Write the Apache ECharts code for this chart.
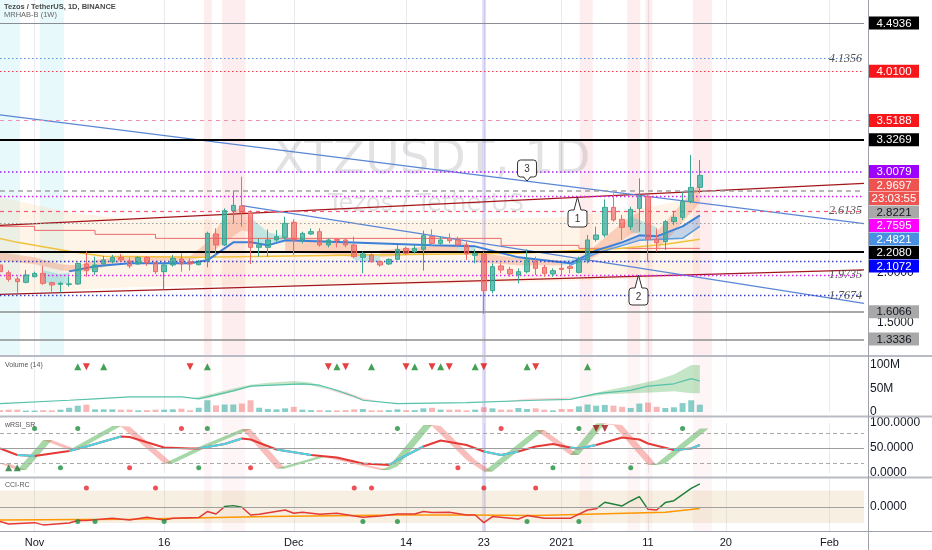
<!DOCTYPE html>
<html><head><meta charset="utf-8">
<script src="https://cdn.jsdelivr.net/npm/echarts@6.0.0/dist/echarts.min.js"></script>
<style>html,body{margin:0;padding:0;background:#fff}#chart{width:932px;height:550px}</style>
</head><body><div id="chart"></div>
<script>
// ---------- categories & ticks ----------
const cats = [];
for (let i = 0; i < 101; i++) cats.push(new Date(Date.UTC(2020, 9, 28) + i * 864e5).toISOString().slice(0, 10));
const xTickLabels = {'2020-11-01':'Nov','2020-11-16':'16','2020-12-01':'Dec','2020-12-14':'14','2020-12-23':'23','2021-01-01':'2021','2021-01-11':'11','2021-01-20':'20','2021-02-01':'Feb'};

// ---------- price data: [open, close, low, high] ----------
const candles = [
[2.074,2.007,1.990,2.100],[1.997,1.930,1.907,2.020],[1.934,1.907,1.797,1.957],[1.900,1.974,1.890,2.024],
[1.957,1.990,1.950,2.007],[1.990,1.890,1.874,2.064],[1.897,1.874,1.807,1.907],[1.880,1.890,1.797,1.907],
[1.880,1.885,1.857,1.957],[1.884,2.090,1.874,2.097],[2.084,2.017,1.957,2.207],[2.007,2.074,1.974,2.157],
[2.084,2.124,2.064,2.164],[2.107,2.150,2.090,2.174],[2.150,2.124,2.107,2.184],[2.114,2.064,2.040,2.150],
[2.084,2.150,2.074,2.164],[2.150,2.097,2.064,2.164],[2.097,2.007,1.984,2.107],[2.007,2.074,1.830,2.090],
[2.074,2.140,2.057,2.174],[2.134,2.084,2.007,2.190],[2.107,2.084,2.017,2.140],[2.077,2.097,2.070,2.124],
[2.117,2.390,2.050,2.407],[2.384,2.274,2.157,2.440],[2.274,2.617,2.264,2.640],[2.617,2.670,2.490,2.820],
[2.664,2.600,2.457,2.957],[2.590,2.250,2.083,2.620],[2.250,2.274,2.157,2.340],[2.250,2.324,2.157,2.430],
[2.324,2.357,2.307,2.424],[2.350,2.490,2.330,2.557],[2.500,2.324,2.174,2.530],[2.324,2.390,2.290,2.407],
[2.384,2.407,2.374,2.440],[2.407,2.274,2.257,2.440],[2.274,2.324,2.250,2.340],[2.330,2.320,2.250,2.340],
[2.324,2.274,2.250,2.340],[2.274,2.157,2.140,2.357],[2.150,2.184,1.990,2.207],[2.174,2.107,2.097,2.190],
[2.107,2.074,2.057,2.117],[2.084,2.130,2.074,2.140],[2.130,2.230,2.124,2.274],[2.240,2.190,2.174,2.257],
[2.207,2.240,2.190,2.274],[2.230,2.367,2.017,2.417],[2.357,2.290,2.264,2.430],[2.290,2.324,2.274,2.357],
[2.340,2.317,2.290,2.390],[2.324,2.274,2.250,2.357],[2.274,2.184,2.124,2.307],[2.170,2.190,2.090,2.230],
[2.184,1.817,1.584,2.207],[1.817,2.057,1.790,2.090],[2.064,2.024,1.990,2.090],[2.030,1.984,1.957,2.057],
[1.974,2.007,1.890,2.040],[2.007,2.124,1.990,2.230],[2.114,2.040,1.974,2.157],[2.050,1.990,1.957,2.074],
[1.984,2.017,1.957,2.040],[2.040,2.030,1.974,2.090],[2.057,2.040,1.990,2.080],[2.000,2.107,1.990,2.157],
[2.124,2.324,2.090,2.374],[2.330,2.374,2.307,2.457],[2.374,2.650,2.350,2.730],[2.650,2.524,2.507,2.790],
[2.530,2.450,2.324,2.574],[2.457,2.630,2.424,2.657],[2.640,2.764,2.407,2.940],[2.757,2.330,2.107,2.774],
[2.330,2.297,2.207,2.440],[2.307,2.507,2.224,2.524],[2.507,2.550,2.474,2.607],[2.550,2.707,2.524,2.807],
[2.707,2.850,2.690,3.174],[2.850,2.970,2.790,3.124]
];
const volumes = [4,5,5,3,3,4,3.5,5,9,13.5,15.6,5.7,5.7,5.7,5,5,3.5,4,5,5,5.7,7,3.5,9,25,14,16,16,18,25,9,
6.4,5.7,7.8,11,5,4,4,3.5,3.5,4,5.7,6.4,3.5,3.5,4,5.7,4,4,7.8,9,5,5,5,3.5,5,10,7.8,5,5,8.5,
6.4,7.8,5,3.5,6.4,6.4,12,16,13.5,15,13.5,11,8.5,18,20,11,8.5,10,19,25,15.6];

// ---------- main pane overlays: [index, value] / [index, low, high] ----------
const stepLine = [[0,2.46],[4,2.42],[11,2.38],[18,2.34],[58,2.27],[67,2.24],[81,2.24]];
const goldLine = [[0,2.34],[2,2.30],[8,2.21],[12,2.16],[23,2.15],[40,2.17],[60,2.19],[72,2.24],[77,2.28],[81,2.33]];
const blueUpper = [[8,2.01],[11,2.06],[15,2.09],[22,2.09],[24,2.12],[27,2.30],[29,2.30],[31,2.27],[33,2.32],[40,2.30],[50,2.27],[55,2.26],[60,2.15],[66,2.09],[69,2.22],[72,2.30],[74,2.37],[76,2.36],[79,2.46],[81,2.57]];
const blueLower = [[66,2.07],[69,2.19],[74,2.32],[79,2.34],[81,2.46]];
const blueBand = [[66,2.07,2.09],[69,2.19,2.22],[74,2.32,2.37],[76,2.33,2.36],[79,2.34,2.46],[81,2.46,2.57]];
const beigeBand = [[0,1.80,2.75],[8,1.82,2.60],[15,1.85,2.53],[30,1.87,2.52],[50,1.88,2.52],[65,1.91,2.55],[75,1.94,2.65],[81,1.97,2.75]];
const haBear = [
 [[0,2.12,2.20],[4,2.08,2.15],[7,2.02,2.08],[9,2.00,2.07],[11,2.03,2.12],[14,2.10,2.16],[22,2.12,2.16],[24,2.16,2.30],[26,2.30,2.55],[28,2.42,2.66],[29,2.40,2.55]],
 [[33,2.20,2.35],[38,2.18,2.32],[41,2.15,2.28]],
 [[44,2.15,2.22],[50,2.19,2.26],[53,2.20,2.28]],
 [[55,2.10,2.20],[60,2.07,2.14],[65,2.07,2.12]],
 [[68,2.12,2.20],[71,2.25,2.42],[73,2.38,2.56],[74,2.40,2.60]],
 [[76,2.22,2.40],[78,2.40,2.60],[80,2.60,2.80],[81,2.70,2.89]]
];
const haBull = [
 [[5,1.90,2.02],[7,1.87,1.98],[8,1.90,2.00]],
 [[29,2.30,2.55],[31,2.28,2.40],[33,2.30,2.36]],
 [[41,2.12,2.20],[44,2.10,2.17]],
 [[53,2.22,2.32],[55,2.18,2.25]],
 [[65,2.07,2.12],[68,2.10,2.14]],
 [[73,2.40,2.56],[76,2.36,2.45]]
];
// trend lines: two anchors [index, price]
const trendRed = [[[0,2.47],[100,2.89]], [[0,1.78],[100,2.025]]];
const trendBlue = [[[0,3.574],[100,2.488]], [[28,2.668],[100,1.69]]];
// horizontal levels
const levels = [[4.4936,'solidGray'],[4.1356,'dotBlue'],[4.0100,'dotRed'],[3.5188,'dashPink'],[3.3269,'solidBlack'],
 [3.0079,'dotViolet'],[2.8221,'dashGray'],[2.7595,'dotMagenta'],[2.6135,'dashRed'],[2.49,'dotGray'],[2.2080,'solidBlack'],
 [2.1072,'dotNavy'],[1.9735,'dotMagenta'],[1.7674,'dotNavy'],[1.6066,'solidGray2'],[1.3336,'solidGray2']];
const levelNotes = [4.1356, 2.6135, 1.9735, 1.7674];
const priceTags = [[4.4936,'black'],[4.0100,'red'],[3.5188,'red'],[3.3269,'black'],[3.0079,'violet'],[2.9697,'last'],
 [2.8221,'gray'],[2.7595,'magenta'],[2.4821,'blue'],[2.2080,'black'],[2.1072,'navy'],[1.6066,'gray'],[1.3336,'gray']];
const countdown = '23:03:55';
const priceTicks = [2.0, 1.5];
const callouts = [['3',61.0,2.9136,'down'],['1',66.84,2.7536,'up'],['2',73.9,1.9736,'up']];
const cyanBands = [[0,2.3],[4.6,7.4]];
const pinkBands = [[23.6,24.5],[25.7,28.4],[67.1,68.6],[72.6,74.1],[74.7,75.5],[80.2,82.4]];
const lavenderBands = [[55.8,56.25]];

// ---------- volume pane (millions) ----------
const volMA = [[0,18],[8,25],[11,28],[15,32],[21,32],[23,28],[27,45],[29,55],[35,60],[37,57],[39,46],[41,33],[42,25],[46,18],[54,20],[62,25],[66,27],[69,39],[73,46],[75,55],[78,60],[80,71],[81,66]];
const volBandBull = [
 [[22,28,28],[24,29,36],[27,43,50],[29,53,58],[31,57,62],[34,58,66],[36,57,63],[38,48,50]],
 [[67,30,31],[70,37,45],[73,40,56],[76,42,68],[78,44,80],[80,40,100],[81,40,100]]
];
const volBandBear = [
 [[38,48,50],[40,36,43],[42,25,30],[44,21,22]],
 [[58,22,22],[61,24,28],[64,26,30],[67,30,31]]
];
const volUp = [9,12,24,39,43,48,51,55,61,68];
const volDown = [10,22,38,40,47,50,52,56,62];

// ---------- wRSI pane ----------
const wrsiSignal = [[0,49],[2,36],[4,34],[8,44],[10,53],[14,73],[15,72],[19,51],[22,49],[23,49],[26,58],[28,69],[29,67],[32,47],[36,36],[39,31],[42,19],[45,16],[46,26],[49,53],[51,65],[54,56],[56,43],[58,36],[60,43],[62,53],[64,58],[66,51],[67,49],[69,56],[72,71],[74,67],[75,59],[78,46],[80,49],[81,56]];
const wrsiBullRanges = [[2,4],[8,14],[23,28],[32,36],[45,49],[56,60],[66,69],[78,81]];
const wrsiFast = [[0,19],[2,6],[5,66],[8,46],[13,94],[14,93],[19,19],[23,52],[28,88],[32,9],[37,34],[44,6],[45,13],[49,96],[50,94],[54,26],[56,3],[62,86],[66,36],[69,99],[71,96],[75,16],[76,19],[81,89]];
const wrsiTopGreen = [4,9,24,46,67,79];
const wrsiTopRed = [21,58];
const wrsiTopRedTri = [69,70];
const wrsiBotGreenTri = [1,2];
const wrsiBotGreen = [7,23,64,73];
const wrsiBotRed = [15,29,53];

// ---------- CCI pane ----------
const cciLine = [[0,-91],[1,-106],[4,-98],[5,-112],[8,-100],[9,-85],[10,-85],[13,-71],[15,-81],[17,-64],[19,-81],[20,-71],[23,-66],[24,-29],[25,-44],[26,2],[27,8],[28,-2],[29,-50],[30,-46],[33,-19],[34,-39],[35,-33],[37,-46],[39,-39],[41,-56],[42,-64],[44,-56],[46,-44],[48,-44],[49,-29],[50,-35],[52,-33],[54,-50],[55,-50],[56,-98],[57,-60],[60,-75],[61,-54],[63,-71],[66,-71],[68,-19],[69,-12],[70,29],[72,6],[73,37],[74,64],[75,-15],[76,-19],[77,27],[78,39],[80,115],[81,143]];
const cciMA = [[0,-81],[15,-77],[31,-60],[46,-50],[54,-50],[62,-54],[69,-44],[77,-33],[81,-10]];
const cciTopRed = [10,18,41,43,56,62];
const cciBotGreen = [9,11,19,42,46,61,67];

// ================= build =================
const FONT = '"Liberation Sans", Arial, sans-serif';
const kp = arr => arr.map(p => [cats[p[0]], p[1]]);
const gridsDef = [[0,355],[357,55],[423,50],[478,53]];
const cciRange = [-150, 180];
const lineStyles = {
  solidGray:{color:'#8a8d96',width:1,type:'solid'}, dotBlue:{color:'#5b8fd6',width:1.2,type:[1.5,2.5]},
  dotRed:{color:'#f23645',width:1.2,type:[1.5,2.5]}, dashPink:{color:'#f48fb1',width:1.2,type:[4,4]},
  solidBlack:{color:'#000',width:2,type:'solid'}, dotViolet:{color:'#a020f0',width:1.5,type:[1.5,2.5]},
  dashGray:{color:'#a0a0a0',width:1.5,type:[5,4]}, dotMagenta:{color:'#d020e8',width:1.3,type:[1.5,2.5]},
  dashRed:{color:'#ef5b7b',width:1.2,type:[4,4]}, dotGray:{color:'#9a9a9a',width:1.2,type:[1.5,2.5]},
  dotNavy:{color:'#3a3fc0',width:1.4,type:[1.5,2.5]}, solidGray2:{color:'#8c8c8c',width:1.5,type:'solid'}
};
function lineS(g, data, color, width, extra){
  return Object.assign({type:'line', xAxisIndex:g, yAxisIndex:g, data:kp(data), showSymbol:false, symbol:'none',
    silent:true, lineStyle:{color:color, width:width}, z:3}, extra||{});
}
function bandS(g, pts, fill, z){
  return {type:'custom', xAxisIndex:g, yAxisIndex:g, silent:true, clip:true, z:z||1,
    data:[[pts[0][0], pts[0][1]]],
    renderItem:function(params, api){
      const top = pts.map(p => api.coord([p[0], p[2]]));
      const bot = pts.map(p => api.coord([p[0], p[1]])).reverse();
      return {type:'polygon', shape:{points:top.concat(bot)}, style:{fill:fill}};
    }};
}
function marks(g, idxs, val, symbol, color, size, rot){
  return {type:'scatter', xAxisIndex:g, yAxisIndex:g, silent:true, z:6, symbol:symbol, symbolSize:size||5,
    symbolRotate:rot||0, itemStyle:{color:color}, data:idxs.map(i => [cats[i], val])};
}

const series = [];
// main pane
series.push(bandS(0, beigeBand, 'rgba(255,200,140,0.20)', 1));
haBear.forEach(s => series.push(bandS(0, s, 'rgba(244,130,95,0.33)', 1)));
haBull.forEach(s => series.push(bandS(0, s, 'rgba(80,200,215,0.35)', 1)));
series.push(bandS(0, blueBand, 'rgba(90,150,230,0.35)', 1));
series.push(lineS(0, stepLine, '#ec6a6a', 1, {step:'end'}));
series.push(lineS(0, goldLine, '#f0c23c', 1.5, {markLine:{symbol:['none','none'], silent:true, animation:false, label:{show:false},
  data: levels.map(l => ({yAxis:l[0], lineStyle:lineStyles[l[1]]}))}}));
series.push(lineS(0, blueUpper, '#3b7fd8', 2));
series.push(lineS(0, blueLower, '#5a9be0', 1.5));
trendRed.forEach(t => series.push(lineS(0, t, '#a4161a', 1.3, {z:4})));
trendBlue.forEach(t => series.push(lineS(0, t, '#5a86d6', 1.3, {z:4})));
series.push({type:'candlestick', xAxisIndex:0, yAxisIndex:0, barWidth:5, z:5, silent:true, data:candles,
  itemStyle:{color:'rgba(38,166,154,0.7)', color0:'rgba(239,83,80,0.6)', borderColor:'#3aa892', borderColor0:'#ee6b6b', borderWidth:1}});
// volume pane
series.push({type:'bar', xAxisIndex:1, yAxisIndex:1, barWidth:6, silent:true, z:2,
  data: volumes.map((v,i) => ({value:v, itemStyle:{color: candles[i][1] >= candles[i][0] ? 'rgba(38,166,154,0.55)' : 'rgba(239,83,80,0.42)'}}))});
volBandBull.forEach(s => series.push(bandS(1, s, 'rgba(76,175,80,0.32)', 2)));
volBandBear.forEach(s => series.push(bandS(1, s, 'rgba(239,83,80,0.25)', 2)));
series.push(lineS(1, volMA, '#55c2aa', 1.2));
series.push(marks(1, volUp, 96, 'triangle', '#138a2a', 7));
series.push(marks(1, volDown, 96, 'triangle', '#e01010', 7, 180));
// wRSI pane
series.push({type:'custom', xAxisIndex:2, yAxisIndex:2, silent:true, clip:true, z:2,
  data: wrsiFast.slice(0,-1).map(p => [p[0], p[1]]),
  renderItem:function(params, api){
    const a = wrsiFast[params.dataIndex], b = wrsiFast[params.dataIndex+1];
    const up = b[1] >= a[1];
    const pts = [api.coord([a[0],a[1]]), api.coord([b[0],b[1]]), api.coord([b[0]+1,b[1]]), api.coord([a[0]+1,a[1]])];
    return {type:'polygon', shape:{points:pts}, style:{fill: up ? 'rgba(76,175,80,0.5)' : 'rgba(239,83,80,0.38)'}};
  }});
series.push(lineS(2, wrsiSignal, '#e53935', 2, {markLine:{symbol:['none','none'], silent:true, animation:false, label:{show:false},
  data:[{yAxis:50, lineStyle:{color:'#9e9e9e', width:1, type:'solid'}},{yAxis:80, lineStyle:{color:'#aaa', width:1, type:[4,3]}},{yAxis:20, lineStyle:{color:'#aaa', width:1, type:[4,3]}}]}}));
(function(){
  const d = [];
  wrsiBullRanges.forEach(r => {
    wrsiSignal.filter(p => p[0] >= r[0] && p[0] <= r[1]).forEach(p => d.push([cats[p[0]], p[1]]));
    d.push([cats[r[1]], null]);
  });
  series.push({type:'line', xAxisIndex:2, yAxisIndex:2, data:d, connectNulls:false, showSymbol:false, symbol:'none', silent:true, z:4, lineStyle:{color:'#4dd5e4', width:2}});
})();
series.push(marks(2, wrsiTopGreen, 89, 'circle', '#1e8e3e', 5));
series.push(marks(2, wrsiTopRed, 89, 'circle', '#e8262b', 5));
series.push(marks(2, wrsiTopRedTri, 89, 'triangle', '#a31515', 7, 180));
series.push(marks(2, wrsiBotGreenTri, 10.6, 'triangle', '#1e7b34', 7));
series.push(marks(2, wrsiBotGreen, 10.6, 'circle', '#1e8e3e', 5));
series.push(marks(2, wrsiBotRed, 10.6, 'circle', '#e8262b', 5));
// CCI pane
series.push(lineS(3, cciMA, '#ff9800', 1.5));
const cciTop = gridsDef[3][0], cciBot = gridsDef[3][0] + gridsDef[3][1];
const zeroOff = cciRange[1] / (cciRange[1] - cciRange[0]);
const cciColor = {type:'linear', x:0, y:cciTop, x2:0, y2:cciBot, global:true,
  colorStops:[{offset:0,color:'#23803a'},{offset:zeroOff,color:'#23803a'},{offset:zeroOff,color:'#e53935'},{offset:1,color:'#e53935'}]};
series.push(lineS(3, cciLine, cciColor, 1.5, {z:4,
  markArea:{silent:true, itemStyle:{color:'rgba(222,196,150,0.28)'}, data:[[{yAxis:-100},{yAxis:100}]]},
  markLine:{symbol:['none','none'], silent:true, animation:false, label:{show:false}, data:[{yAxis:0, lineStyle:{color:'#a0a0a0', width:1, type:'solid'}}]}}));
series.push(marks(3, cciTopRed, 118, 'circle', '#e8262b', 5));
series.push(marks(3, cciBotGreen, -91, 'circle', '#1e8e3e', 5));

const tickFn = (i, v) => xTickLabels[v] !== undefined;
const option = {
  animation:false,
  backgroundColor:'#ffffff',
  grid: gridsDef.map(g => ({left:0, width:864, top:g[0], height:g[1], outerBoundsMode:'none', containLabel:false})),
  xAxis: [0,1,2,3].map(g => ({type:'category', gridIndex:g, data:cats, boundaryGap:false,
    axisLine:{show:false}, axisTick:{show:false},
    axisLabel: g === 3 ? {show:true, interval:tickFn, formatter:v => xTickLabels[v] || '', color:'#131722', fontSize:11, margin:6, fontFamily:FONT, hideOverlap:false} : {show:false},
    splitLine:{show:true, interval:tickFn, lineStyle:{color:'#e8eaef', width:1}}})),
  yAxis: [
    {type:'value', gridIndex:0, min:1.1736, max:4.7236, position:'right', axisLabel:{show:false}, axisLine:{show:false}, axisTick:{show:false}, splitLine:{show:false}},
    {type:'value', gridIndex:1, min:0, max:117, interval:50, position:'right', axisLine:{show:false}, axisTick:{show:false}, splitLine:{show:false},
      axisLabel:{margin:6, color:'#131722', fontSize:12, fontFamily:FONT, showMaxLabel:false, formatter:v => v === 0 ? '0' : (v % 50 === 0 ? v + 'M' : '')}},
    {type:'value', gridIndex:2, min:0, max:100, interval:50, position:'right', axisLine:{show:false}, axisTick:{show:false}, splitLine:{show:false},
      axisLabel:{margin:6, color:'#131722', fontSize:12, fontFamily:FONT, formatter:v => v.toFixed(4)}},
    {type:'value', gridIndex:3, min:cciRange[0], max:cciRange[1], interval:50, position:'right', axisLine:{show:false}, axisTick:{show:false}, splitLine:{show:false},
      axisLabel:{margin:6, color:'#131722', fontSize:12, fontFamily:FONT, formatter:v => v === 0 ? '0.0000' : ''}}
  ],
  series: series
};
const chart = echarts.init(document.getElementById('chart'));
chart.setOption(option);

// ---------- overlay graphics ----------
const xa = chart.convertToPixel({xAxisIndex:0}, cats[0]);
const xb = chart.convertToPixel({xAxisIndex:0}, cats[1]);
const xf = i => xa + i * (xb - xa);
const yMain = v => chart.convertToPixel({yAxisIndex:0}, v);
const G = [];
function txt(t, x, y, font, fill, align, z){
  G.push({type:'text', z:z||100, silent:true, style:{text:t, x:x, y:y, font:font, fill:fill,
    align:align||'left', verticalAlign:'middle', textAlign:align||'left', textVerticalAlign:'middle'}});
}
function ln(x1,y1,x2,y2,stroke,w,z){ G.push({type:'line', z:z||90, silent:true, shape:{x1,y1,x2,y2}, style:{stroke:stroke, lineWidth:w}}); }
function rect(x,y,w,h,fill,z,extra){ G.push(Object.assign({type:'rect', z:z===undefined?0:z, silent:true, shape:{x,y,width:w,height:h}, style:{fill:fill}}, extra||{})); }

cyanBands.forEach(b => rect(xf(b[0]), 0, xf(b[1]) - xf(b[0]), 355, 'rgba(0,188,212,0.09)', 0));
pinkBands.forEach(b => { rect(xf(b[0]), 0, xf(b[1]) - xf(b[0]), 355, 'rgba(242,54,69,0.09)', 0);
  rect(xf(b[0]), 357, xf(b[1]) - xf(b[0]), 174, 'rgba(242,54,69,0.05)', 0); });
lavenderBands.forEach(b => rect(xf(b[0]), 0, xf(b[1]) - xf(b[0]), 531, 'rgba(120,100,220,0.22)', 0));

// watermark
txt('XTZUSDT, 1D', 273, 161, '47px "DejaVu Sans", sans-serif', 'rgba(110,112,120,0.20)', 'left', 1);
txt('Tezos / TetherUS', 328, 205, '24px "DejaVu Sans", sans-serif', 'rgba(110,112,120,0.20)', 'left', 1);

// separators
[[356,2,'#b8bbc4'],[416.5,2,'#b8bbc4'],[477.5,2,'#b8bbc4'],[531.5,1,'#9ea1aa']].forEach(s => ln(0, s[0], 932, s[0], s[2], s[1], 95));
ln(868.5, 0, 868.5, 550, '#9ea1aa', 1, 95);

// header & pane titles
txt('Tezos / TetherUS, 1D, BINANCE', 4, 6.5, 'bold 7.5px ' + FONT, '#4a4a4a');
txt('MRHAB-B (1W)', 4, 15, '7.5px ' + FONT, '#666');
txt('Volume (14)', 5, 365, '7px ' + FONT, '#555');
txt('wRSI_SR', 5, 425, '7px ' + FONT, '#555');
txt('CCI-RC', 5, 485, '7px ' + FONT, '#555');

// level notes (italic)
levelNotes.forEach(v => txt(v.toFixed(4), 862, yMain(v), 'italic 12px "Liberation Serif", serif', '#555', 'right', 96));
// price axis ticks
priceTicks.forEach(v => txt(v.toFixed(4), 877, yMain(v), '12px ' + FONT, '#131722', 'left', 97));

// price tags with collision avoidance
const tagColors = {black:['#000','#fff'], red:['#f7171b','#fff'], violet:['#9d00ff','#fff'], last:['#ef5350','#fff'],
  gray:['#a8a8a8','#131722'], magenta:['#ff00ff','#fff'], blue:['#4a90e2','#fff'], navy:['#0000ff','#fff']};
const tagItems = [];
priceTags.forEach(t => {
  tagItems.push({text:t[0].toFixed(4), kind:t[1], y:yMain(t[0])});
  if (t[1] === 'last') tagItems.push({text:countdown, kind:'last', y:yMain(t[0]) + 0.01});
});
tagItems.sort((a,b) => a.y - b.y);
for (let i = 1; i < tagItems.length; i++) tagItems[i].y = Math.max(tagItems[i].y, tagItems[i-1].y + 13.5);
tagItems.forEach(t => {
  const c = tagColors[t.kind];
  rect(869, t.y - 6.5, 50, 13, c[0], 110);
  txt(t.text, 894, t.y + 0.5, '11.5px ' + FONT, c[1], 'center', 111);
});

// callouts
callouts.forEach(c => {
  const cx = xf(c[1]), ty = yMain(c[2]);
  const w = 19, h = 17;
  const top = c[3] === 'up' ? ty + 13 : ty - 4 - h;
  G.push({type:'rect', z:98, silent:true, shape:{x:cx-w/2, y:top, width:w, height:h, r:3}, style:{fill:'#fff', stroke:'#333', lineWidth:1}});
  const baseY = c[3] === 'up' ? top : top + h;
  const inner = c[3] === 'up' ? 1 : -1;
  G.push({type:'polygon', z:99, silent:true, shape:{points:[[cx-3.5, baseY + inner],[cx, ty],[cx+3.5, baseY + inner]]}, style:{fill:'#fff'}});
  G.push({type:'polyline', z:99, silent:true, shape:{points:[[cx-3.5, baseY],[cx, ty],[cx+3.5, baseY]]}, style:{stroke:'#333', lineWidth:1, fill:null}});
  txt(c[0], cx, top + h/2 + 0.5, '10px ' + FONT, '#333', 'center', 100);
});

chart.setOption({graphic:{elements:G}});
</script></body></html>
